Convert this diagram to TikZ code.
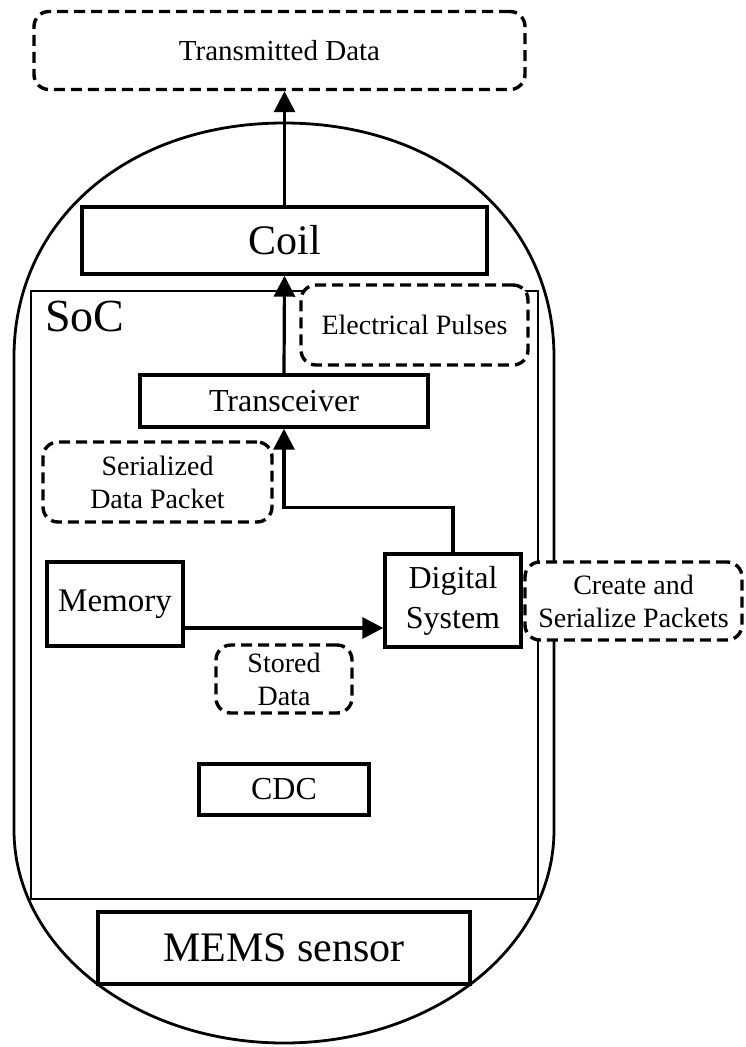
\documentclass[tikz,border=0pt]{standalone}
\usepackage{fontspec}
\setmainfont{Liberation Serif}
\usetikzlibrary{arrows.meta}
\begin{document}
\begin{tikzpicture}[x=1pt,y=-1pt,
  box/.style={draw, line width=3.4pt, fill=white, inner sep=0pt, align=center},
  note/.style={draw, dash pattern=on 11pt off 6pt, line width=3.4pt,
    rounded corners=15pt, fill=white, inner sep=0pt, align=center,
    font=\fontsize{28}{33}\selectfont},
  arr/.style={line width=3.2pt, -{Triangle[length=21pt,width=21pt]}},
  shell/.style={line width=2.8pt}]
\useasboundingbox (0,0) rectangle (745,1047);

% capsule outline
\draw[shell] (14,830) -- (14,357)
  .. controls (14,221) and (127,123) .. (284,123)
  .. controls (441,123) and (554,221) .. (554,357)
  -- (554,830)
  .. controls (554,948) and (433,1043) .. (284,1043)
  .. controls (135,1043) and (14,948) .. cycle;

% system on chip frame
\node[draw, shell, minimum width=507pt, minimum height=608pt, inner sep=0pt] (soc) at (284.5,595) {};
\node[anchor=base west, inner sep=0pt, font=\fontsize{46}{50}\selectfont] (soclabel) at (45,331) {SoC};

% blocks
\node[note, font=\fontsize{29}{33}\selectfont, minimum width=491pt, minimum height=78pt] (td) at (279.5,50.5) {Transmitted Data};
\node[box, minimum width=405pt, minimum height=67pt, font=\fontsize{42}{48}\selectfont] (coil) at (284.5,240.5) {Coil};
\node[note, minimum width=227pt, minimum height=80pt] (ep) at (414.5,325) {Electrical Pulses};
\node[box, minimum width=288pt, minimum height=52pt, font=\fontsize{32}{38}\selectfont] (trx) at (284,401) {Transceiver};
\node[note, minimum width=229pt, minimum height=80pt] (sdp) at (157.5,482) {Serialized\\Data Packet};
\node[box, minimum width=136pt, minimum height=84pt, font=\fontsize{33}{38}\selectfont] (mem) at (115,604) {Memory};
\node[box, minimum width=136pt, minimum height=93pt, font=\fontsize{32}{40}\selectfont] (ds) at (453,600.5) {Digital\\System};
\node[note, minimum width=217pt, minimum height=78pt] (csp) at (633.5,601) {Create and\\Serialize Packets};
\node[note, minimum width=136pt, minimum height=68pt] (sd) at (284,679) {Stored\\Data};
\node[box, minimum width=170pt, minimum height=51pt, font=\fontsize{32}{38}\selectfont] (cdc) at (284,789.5) {CDC};
\node[box, minimum width=372pt, minimum height=72pt, font=\fontsize{42}{48}\selectfont] (mems) at (284,948) {MEMS sensor};

% data flow
\coordinate (memout) at (183,628);
\draw[arr] (memout) -- (memout -| ds.west);
\draw[arr] (ds.north) -- ++(0,-45) -| (trx.south);
\draw[arr] (trx.north) -- (coil.south);
\draw[arr] (coil.north) -- (coil.north |- td.south);
\end{tikzpicture}
\end{document}
